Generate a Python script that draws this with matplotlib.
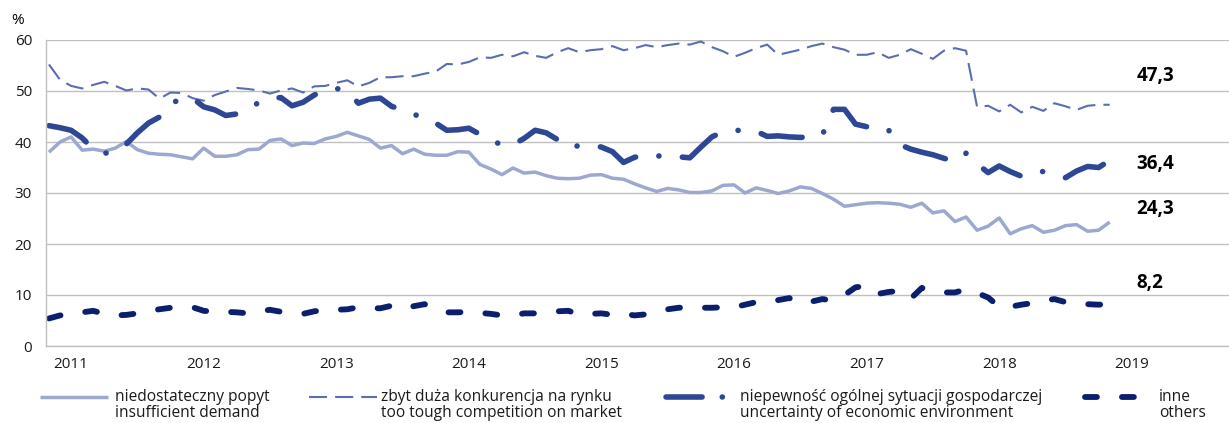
import numpy as np
import pandas as pd
import matplotlib
matplotlib.use('Agg')
import matplotlib.pyplot as plt
from matplotlib.lines import Line2D

plt.rcParams['font.family'] = ['Open Sans', 'DejaVu Sans']
plt.rcParams['lines.scale_dashes'] = False

# monthly survey, XI 2010 - XI 2018 (% of firms)
months = pd.period_range('2010-11', '2018-11', freq='M')

popyt = [38.0, 40.0, 41.0, 38.4, 38.6, 38.2, 38.8, 40.1, 38.5, 37.8,
         37.6, 37.5, 37.1, 36.7, 38.8, 37.2, 37.2, 37.5, 38.5, 38.6,
         40.3, 40.6, 39.3, 39.8, 39.7, 40.6, 41.1, 41.9, 41.2, 40.5,
         38.8, 39.3, 37.7, 38.6, 37.6, 37.4, 37.4, 38.1, 38.0, 35.6,
         34.7, 33.6, 34.9, 33.9, 34.1, 33.4, 32.9, 32.8, 32.9, 33.5,
         33.6, 32.9, 32.7, 31.8, 31.0, 30.3, 30.9, 30.6, 30.1, 30.1,
         30.4, 31.5, 31.6, 30.0, 31.0, 30.5, 29.9, 30.4, 31.2, 30.9,
         29.9, 28.8, 27.4, 27.7, 28.0, 28.1, 28.0, 27.8, 27.2, 28.0,
         26.1, 26.5, 24.4, 25.3, 22.7, 23.5, 25.1, 22.0, 23.0, 23.6,
         22.3, 22.7, 23.6, 23.8, 22.5, 22.7, 24.3]

konkurencja = [55.2, 52.2, 51.0, 50.5, 51.2, 51.8, 51.0, 50.1, 50.5, 50.3,
               48.5, 49.7, 49.6, 48.6, 48.1, 49.2, 49.9, 50.6, 50.4, 50.1,
               49.5, 50.1, 50.5, 49.7, 50.9, 51.0, 51.6, 52.1, 50.9, 51.6,
               52.7, 52.7, 52.9, 52.9, 53.4, 53.8, 55.3, 55.2, 55.7, 56.6,
               56.5, 57.1, 56.8, 57.6, 56.9, 56.5, 57.6, 58.4, 57.6, 58.0,
               58.2, 58.8, 58.0, 58.4, 59.0, 58.6, 59.0, 59.3, 59.1, 59.7,
               58.6, 57.8, 56.7, 57.5, 58.4, 59.1, 57.1, 57.6, 58.1, 58.8,
               59.3, 58.6, 58.1, 57.1, 57.1, 57.6, 56.5, 57.1, 58.2, 57.3,
               56.3, 57.9, 58.4, 57.9, 46.9, 47.1, 46.0, 47.3, 45.8, 46.9,
               46.1, 47.6, 47.0, 46.3, 47.1, 47.3, 47.3]

niepewnosc = [43.2, 42.8, 42.3, 40.8, 38.6, 37.8, 38.0, 39.6, 41.8, 43.7,
              44.9, 47.5, 48.5, 48.6, 46.9, 46.3, 45.2, 45.5, 46.3, 47.8,
              48.6, 48.7, 47.1, 47.8, 49.2, 50.2, 50.5, 50.0, 47.6, 48.4,
              48.6, 47.0, 46.3, 45.5, 44.5, 43.7, 42.3, 42.4, 42.7, 41.5,
              40.4, 39.4, 39.5, 40.7, 42.3, 41.8, 40.5, 38.9, 39.3, 39.5,
              39.0, 38.1, 36.0, 37.0, 37.5, 37.2, 37.5, 37.1, 36.9, 39.0,
              41.0, 42.0, 42.2, 42.4, 42.1, 41.1, 41.2, 41.0, 40.9, 41.0,
              41.4, 46.4, 46.4, 43.5, 43.0, 43.2, 42.3, 39.5, 38.6, 38.0,
              37.5, 36.8, 36.2, 37.8, 35.7, 34.0, 35.3, 34.2, 33.3, 34.2,
              34.2, 33.8, 33.0, 34.3, 35.2, 35.0, 36.4]

inne = [5.4, 6.0, 6.1, 6.6, 6.9, 6.3, 6.0, 6.1, 6.4, 6.9,
        7.2, 7.5, 7.6, 7.6, 6.9, 6.7, 6.7, 6.6, 6.4, 6.8,
        7.1, 6.7, 6.6, 6.3, 6.8, 7.1, 7.1, 7.2, 7.6, 7.4,
        7.4, 7.9, 7.2, 7.8, 8.2, 7.2, 6.6, 6.6, 6.7, 6.5,
        6.3, 6.0, 6.0, 6.4, 6.4, 6.5, 6.8, 6.9, 6.2, 6.3,
        6.4, 6.1, 6.3, 6.0, 6.2, 6.8, 7.2, 7.5, 7.6, 7.5,
        7.5, 7.6, 7.6, 8.1, 8.6, 8.6, 9.0, 9.4, 8.4, 8.7,
        9.2, 8.9, 10.0, 11.5, 11.8, 10.2, 10.6, 10.8, 9.3, 11.4,
        10.7, 10.5, 10.5, 11.1, 10.4, 9.5, 7.7, 7.7, 8.1, 8.4,
        8.9, 9.2, 8.6, 8.3, 8.2, 8.1, 8.2]

labels_pl = ['niedostateczny popyt', 'zbyt duża konkurencja na rynku',
             'niepewność ogólnej sytuacji gospodarczej', 'inne']
labels_en = ['insufficient demand', 'too tough competition on market',
             'uncertainty of economic environment', 'others']

styles = [
    dict(color='#9da8d1', lw=2.5, solid_capstyle='butt'),
    dict(color='#5b6db0', lw=1.5, linestyle=(0, (13, 5.8))),
    dict(color='#2e4795', lw=4.0, linestyle=(0, (30, 17, 0.1, 17)),
         dash_capstyle='round'),
    dict(color='#0b1f6e', lw=4.2, linestyle=(0, (8.6, 18)),
         dash_capstyle='round'),
]
series = [popyt, konkurencja, niepewnosc, inne]
# where the end value is written, relative to the last point
label_shift = [2.6, 5.6, -0.7, 4.2]

x = np.arange(len(months))
years = sorted(set(m.year for m in months if m.month == 1)) + [2019]
ticks = [i for i, m in enumerate(months) if m.month == 1]
ticks.append(ticks[-1] + 12)

W, H = 1229, 423
fig = plt.figure(figsize=(W / 100, H / 100), dpi=100)
ax = fig.add_axes([46 / W, 77 / H, 1 - 46 / W, 306 / H])

for vals, st in zip(series, styles):
    ax.plot(x, vals, **st)

for k, vals in enumerate(series):
    txt = f'{vals[-1]:.1f}'.replace('.', ',')
    ax.text(98.4, vals[-1] + label_shift[k], txt, ha='left', va='center',
            fontsize=13.5, fontweight='bold', color='black')

ax.set_xlim(-0.27, 106.8)
ax.set_ylim(0, 60)
ax.set_yticks(range(0, 61, 10))
ax.set_xticks(ticks)
ax.set_xticklabels([str(y) for y in years])
ax.tick_params(axis='both', length=0, labelsize=11, colors='#1a1a1a')
ax.tick_params(axis='y', pad=10)
ax.tick_params(axis='x', pad=8)
ax.grid(axis='y', color='#c0c0c0', lw=1.0)
ax.set_axisbelow(True)
for side in ['top', 'right']:
    ax.spines[side].set_visible(False)
for side in ['left', 'bottom']:
    ax.spines[side].set_color('#c0c0c0')
    ax.spines[side].set_linewidth(1.0)

fig.text(18 / W, 1 - 20 / H, '%', ha='center', va='center', fontsize=11)

# legend row under the axis; the dash-dot sample is shortened so the dot shows
handle_px = [(40, 108), (309, 377), (666, 726), (1085, 1139)]
handle_ls = [None, None, (0, (26, 14.5, 0.1, 14.5)), None]
text_px = [115, 381, 740, 1159]
y1 = 1 - 397 / H
y2 = 1 - 413 / H
for k in range(4):
    x0, x1 = handle_px[k]
    st = dict(styles[k])
    if handle_ls[k] is not None:
        st['linestyle'] = handle_ls[k]
    fig.add_artist(Line2D([x0 / W, x1 / W], [y1, y1], transform=fig.transFigure,
                          **st))
    fig.text(text_px[k] / W, y1, labels_pl[k], ha='left', va='center',
             fontsize=11.2, color='#1a1a1a')
    fig.text(text_px[k] / W, y2, labels_en[k], ha='left', va='center',
             fontsize=11.2, color='#1a1a1a')

fig.savefig('out.png', dpi=100)
